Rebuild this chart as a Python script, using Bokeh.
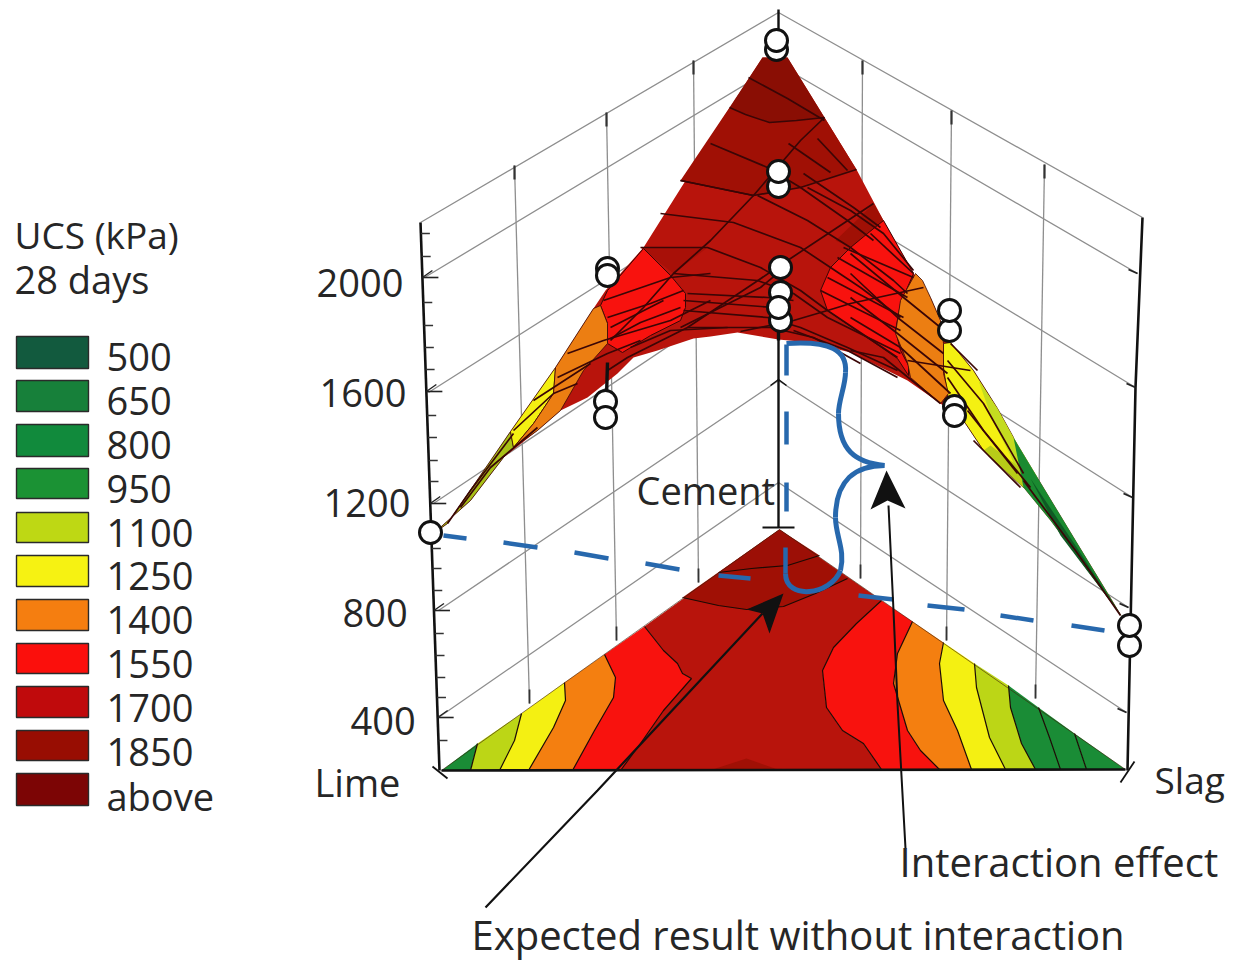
from bokeh.plotting import figure
from bokeh.models import Range1d
from bokeh.core.properties import value
from bokeh.embed import file_html
from bokeh.resources import INLINE

FONT = "Open Sans"
INK = "#262626"
MESH = "#3a0606"
GRID = "#8e8e8e"
BLUE = "#2768ad"

# ---- legend
legend_labels = ["500", "650", "800", "950", "1100", "1250", "1400", "1550", "1700", "1850", "above"]
legend_colors = ["#125a3e", "#17803a", "#118a3c", "#1b9234", "#bed814", "#f6f212", "#f57e10",
                 "#fb0f0c", "#c00a0c", "#980d02", "#7c0505"]
legend_top = [336, 380, 424, 468, 512, 555, 599, 643, 686, 730, 773]
legend_bottom = [368, 411, 456, 498, 542, 586, 630, 673, 717, 760, 805]
legend_text_y = [356, 400, 444, 488, 532, 575, 619, 663, 707, 751, 795]

C_GREEN, C_LIME, C_YEL, C_ORG, C_RED, C_1700, C_1850, C_TOP = (
    "#1a8c36", "#bcd616", "#f4f012", "#f47f10", "#f8120e", "#b8140c", "#a01005", "#8a0e04")

# ---- value axis
axis_labels = ["2000", "1600", "1200", "800", "400"]
axis_label_x = [316, 319, 323, 342, 350]
axis_label_y = [282, 392, 502, 612, 720]
left_tick_y = [277, 391, 503, 610, 717]
minor_tick_y = [233, 256, 302, 325, 347, 369, 415, 437, 460, 481, 526, 548, 568, 590, 633, 655, 677, 697, 740]

# ---- wall grid: (left end, centre, right end) of every level
wall_left_x = [420, 424, 428, 433, 438, 438]
wall_left_y = [222, 277, 392, 503, 610, 717]
wall_mid_y = [12, 64, 170, 272, 380, 482]
wall_right_x = [1142, 1137, 1135, 1132, 1128, 1126]
wall_right_y = [217, 273, 387, 497, 607, 712]

vert_x_top = [514, 606, 693, 862, 951, 1044]
vert_y_top = [165, 112, 60, 60, 110, 164]
vert_x_bot = [529, 616, 698, 860, 946, 1035]
vert_y_bot = [703, 640, 582, 578, 640, 698]

# ---- floor triangle
floor_L, floor_A, floor_R = (441, 770), (779, 529), (1125, 769)
c1 = [(477, 743), (470, 770)]
c2 = [(521, 713), (514, 740), (499, 770)]
c3 = [(564, 682), (565, 700), (553, 727), (528, 770)]
c4 = [(604, 654), (615, 677), (613, 697), (594, 730), (572, 770)]
c5 = [(644, 626), (663, 650), (677, 663), (682, 673), (691, 678), (663, 710), (640, 743), (620, 770)]
c6 = [(881, 600), (856, 623), (833, 647), (822, 670), (826, 707), (842, 730), (863, 743), (881, 769)]
c7 = [(912, 621), (897, 653), (893, 683), (907, 730), (920, 750), (939, 769)]
c8 = [(943, 642), (939, 663), (943, 700), (957, 730), (971, 769)]
c9 = [(974, 663), (976, 687), (989, 737), (1005, 769)]
c10 = [(1008, 685), (1010, 707), (1021, 743), (1035, 769)]
c11 = [(1038, 707), (1049, 737), (1060, 769)]
c12 = [(1074, 733), (1086, 769)]
floor_1850 = [(682, 597), (718, 605), (746, 609), (783, 606), (815, 593), (847, 578)]
floor_top = [(718, 572), (751, 568), (787, 565), (819, 555)]
floor_peak = [(709, 770), (746, 758), (780, 770)]

# ---- surface regions
surface_outline = [(433, 533), (447, 523), (510, 431), (555, 367), (593, 308), (605, 290), (643, 247), (687, 177),
                   (710, 137), (762, 57), (787, 57), (824, 117), (856, 169), (883, 220), (913, 273),
                   (930, 297), (940, 320), (950, 342), (973, 370), (997, 408), (1013, 437), (1037, 477),
                   (1077, 543), (1110, 597), (1122, 617), (1107, 597), (1050, 520), (1023, 487), (983, 450),
                   (965, 423), (940, 403), (907, 380), (850, 352), (810, 342), (778, 339), (737, 332), (710, 336),
                   (693, 338), (657, 350), (633, 357), (617, 373), (587, 397), (560, 410), (537, 430),
                   (503, 457), (470, 500)]
s_above = [(729, 107), (762, 57), (787, 57), (824, 117), (796, 120), (769, 122), (745, 114)]
s_1850 = [(680, 180), (729, 107), (745, 114), (769, 122), (796, 120), (824, 117), (856, 169), (800, 187), (753, 195)]
s_band_right = [(873, 203), (883, 220), (867, 233), (850, 247), (835, 240), (858, 218)]
s_band_left = [(640, 247), (707, 247), (673, 273)]
s_red_left = [(600, 305), (607, 290), (643, 248), (670, 275), (685, 293), (685, 307), (680, 320), (650, 335),
              (622, 352), (607, 343), (607, 323)]
s_red_right = [(883, 220), (913, 273), (900, 303), (895, 330), (900, 350), (908, 365), (908, 375), (897, 358),
               (827, 310), (820, 290), (830, 267), (850, 247), (867, 233)]
s_org_left = [(555, 367), (593, 308), (600, 305), (607, 323), (607, 343), (583, 370), (560, 410), (537, 430),
              (513, 447), (533, 423), (553, 393)]
s_org_right = [(915, 273), (922, 280), (930, 297), (940, 320), (943, 343), (943, 373), (948, 393), (940, 403),
               (910, 377), (907, 362), (895, 333), (900, 300)]
s_yel_left = [(510, 431), (555, 367), (553, 393), (533, 423), (513, 447)]
s_lime_left = [(433, 533), (447, 523), (510, 431), (513, 447), (503, 457), (470, 500)]
s_yel_right = [(943, 343), (950, 342), (973, 370), (997, 408), (1013, 437), (1023, 487), (983, 450), (965, 423),
               (948, 400), (943, 367)]
s_lime_right = [(978, 380), (997, 408), (1013, 437), (1037, 477), (1023, 487), (1010, 455), (992, 420)]
s_lime_lower = [(990, 445), (1023, 470), (1023, 487), (983, 450)]
s_green_right = [(1013, 437), (1037, 477), (1077, 543), (1122, 617), (1107, 597), (1050, 520), (1023, 487)]
s_green_core = [(1030, 478), (1077, 548), (1122, 617), (1060, 535)]

mesh_lines = [
    [(748, 77), (787, 98), (824, 120)],
    [(710, 143), (767, 167), (800, 187), (847, 220), (873, 240)],
    [(680, 180), (753, 195)],
    [(660, 213), (733, 222), (800, 247), (830, 267), (860, 287), (900, 317)],
    [(757, 195), (807, 220), (850, 247), (893, 280), (907, 293)],
    [(640, 247), (707, 247), (760, 267), (800, 290), (827, 310), (897, 357)],
    [(807, 187), (850, 210), (883, 233), (913, 270)],
    [(803, 173), (853, 207), (880, 227)],
    [(817, 138), (847, 170)],
    [(788, 143), (830, 172)],
    [(673, 273), (757, 280), (793, 293), (827, 317), (900, 353)],
    [(687, 293), (767, 297), (793, 300)],
    [(683, 300), (773, 307)],
    [(683, 310), (767, 317), (800, 327), (847, 347), (897, 370)],
    [(687, 327), (770, 327), (813, 337), (860, 363)],
    [(793, 330), (847, 350), (897, 377)],
    [(820, 290), (900, 330)],
    [(827, 277), (903, 317)],
    [(837, 257), (907, 297)],
    [(843, 247), (913, 277)],
    [(824, 117), (800, 140), (753, 195), (710, 240), (673, 273), (643, 307), (610, 340)],
    [(873, 203), (787, 260), (753, 283), (687, 327), (627, 357), (607, 370)],
    [(680, 327), (720, 307), (760, 287), (777, 273)],
    [(630, 347), (670, 330), (727, 327)],
    [(610, 338), (640, 322), (680, 307)],
    [(610, 327), (663, 300)],
    [(923, 287), (900, 292), (850, 303), (827, 310), (793, 320), (740, 331)],
    [(603, 300), (670, 277), (710, 273)],
    [(607, 317), (650, 303), (683, 290)],
    [(567, 353), (603, 340), (670, 320), (710, 300)],
    [(557, 377), (607, 353), (640, 340)],
    [(533, 400), (553, 387), (590, 363)],
    [(513, 430), (553, 393), (577, 383)],
    [(513, 433), (470, 490), (447, 523)],
    [(537, 427), (490, 467), (460, 507)],
    [(870, 233), (913, 273)],
    [(850, 253), (903, 297), (940, 327)],
    [(850, 273), (897, 317), (943, 353)],
    [(850, 297), (897, 333), (947, 373)],
    [(850, 317), (900, 347), (950, 393)],
    [(950, 343), (977, 370)],
    [(947, 360), (983, 403), (1023, 473)],
    [(947, 377), (983, 430), (1030, 487)],
    [(967, 410), (1017, 473)],
    [(973, 440), (1020, 487)],
    [(907, 360), (970, 370)],
    [(850, 350), (883, 357), (940, 403)],
    [(1023, 480), (1075, 550), (1120, 615)],
]

# ---- measured runs
point_x = [776, 776, 778, 778, 780, 780, 778, 780, 607, 607, 949, 949, 954, 954, 605, 605, 430, 1129, 1129]
point_y = [49, 40, 186, 171, 320, 292, 307, 267, 268, 275, 330, 310, 406, 415, 401, 417, 532, 645, 625]

stems = [[(607, 362), (606, 396)], [(778, 179), (778, 192)], [(781, 284), (781, 298)], [(778, 326), (778, 340)],
         [(949, 322), (949, 334)]]

# ---- annotations
blue_dashes = [[(443, 535), (466, 538)], [(503, 542), (537, 547)], [(574, 552), (608, 558)], [(645, 563), (679, 569)],
               [(718, 575), (750, 578)], [(858, 595), (893, 599)], [(927, 605), (964, 609)], [(1000, 615), (1033, 620)],
               [(1071, 625), (1104, 630)], [(786, 344), (786, 375)], [(786, 411), (786, 444)], [(786, 482), (786, 511)],
               [(785, 573), (785, 547)]]
# brace as cubic segments: start, control 1, control 2, end
brace_x0 = [786, 845, 838, 884, 835, 840]
brace_y0 = [343, 372, 413, 465, 517, 570]
brace_cx0 = [830, 845, 838, 855, 835, 830]
brace_cy0 = [340, 385, 450, 465, 535, 595]
brace_cx1 = [847, 838, 855, 835, 845, 785]
brace_cy1 = [350, 400, 462, 480, 550, 600]
brace_x1 = [845, 838, 884, 835, 840, 785]
brace_y1 = [372, 413, 465, 517, 570, 573]
arrow_1 = [(905, 848), (897, 703), (893, 610), (888, 505)]
arrow_1_head = [(886, 470), (905, 508), (887, 500), (870, 509)]
arrow_2 = [(485, 907), (597, 790), (762, 613)]
arrow_2_head = [(783, 593), (769, 633), (762, 613), (746, 609)]

texts = [("UCS (kPa)", 14, 234, 37), ("28 days", 14, 278, 38), ("Cement", 636, 489, 38), ("Lime", 314, 781, 38),
         ("Slag", 1154, 779, 37), ("Interaction effect", 899, 861, 40), ("Expected result without interaction", 471, 934, 40)]


def xs(pts):
    return [q[0] for q in pts]


def ys(pts):
    return [q[1] for q in pts]


p = figure(width=1233, height=962, x_range=Range1d(0, 1233), y_range=Range1d(962, 0),
           output_backend="svg", toolbar_location=None, min_border=0,
           x_axis_location=None, y_axis_location=None, outline_line_color=None)
p.grid.visible = False
p.background_fill_color = "white"
p.border_fill_color = "white"


def poly(pts, fill, line=None, lw=1.0):
    p.patch(xs(pts), ys(pts), fill_color=fill, line_color=line, line_width=lw)


def line(pts, color, lw):
    p.line(xs(pts), ys(pts), line_color=color, line_width=lw)


# walls
for i in range(len(wall_left_x)):
    line([(wall_left_x[i], wall_left_y[i]), (778, wall_mid_y[i]), (wall_right_x[i], wall_right_y[i])], GRID, 1.3)
for i in range(len(vert_x_top)):
    line([(vert_x_top[i], vert_y_top[i]), (vert_x_bot[i], vert_y_bot[i])], GRID, 1.3)
    line([(vert_x_top[i], vert_y_top[i]), (vert_x_top[i], vert_y_top[i] + 14)], "#333333", 2.2)
    line([(vert_x_bot[i], vert_y_bot[i] - 14), (vert_x_bot[i], vert_y_bot[i])], "#333333", 1.8)

# axes
line([(420, 222), (439, 770)], "#111111", 2.6)
line([(1142, 217), (1135, 387), (1127, 770)], "#111111", 2.6)
line([(778, 339), (778, 527)], "#111111", 2.4)
line([(778, 9), (778, 34)], "#111111", 2.4)
line([(762, 527), (794, 527)], "#111111", 2)
line([(770, 385), (778, 379), (786, 385)], "#111111", 1.5)
for y in minor_tick_y:
    x0 = 420 + (y - 222) * 19 / 548
    line([(x0, y), (x0 + 9, y)], "#333333", 1.5)
for y in left_tick_y:
    x0 = 420 + (y - 222) * 19 / 548
    line([(x0, y), (x0 + 16, y)], "#222222", 1.6)
    line([(x0, y), (x0 + 10, y - 7)], "#222222", 1.4)
for i in range(1, len(wall_right_x)):
    line([(wall_right_x[i] - 9, wall_right_y[i] - 4), (wall_right_x[i], wall_right_y[i])], "#222222", 1.8)

# floor: one polygon per band between neighbouring contours
poly(c1 + [floor_L], C_GREEN)
poly(c1 + c2[::-1], C_LIME)
poly(c2 + c3[::-1], C_YEL)
poly(c3 + c4[::-1], C_ORG)
poly(c4 + c5[::-1], C_RED)
poly(c5 + c6[::-1] + [floor_A], C_1700)
poly(c6 + c7[::-1], C_RED)
poly(c7 + c8[::-1], C_ORG)
poly(c8 + c9[::-1], C_YEL)
poly(c9 + c10[::-1], C_LIME)
poly(c10 + c11[::-1], C_GREEN)
poly(c11 + c12[::-1], C_GREEN)
poly(c12 + [floor_R], C_GREEN)
poly(floor_1850 + [floor_A], C_1850)
poly(floor_top + [floor_A], "#9c0f06")
poly(floor_peak, C_1850)
for contour in [c1, c2, c3, c4, c5, c6, c7, c8, c9, c10, c11, c12, floor_1850, floor_top]:
    line(contour, "#1c0a04", 1.2)
line([floor_L, floor_A, floor_R], "#40200a", 0.6)
line([floor_L, floor_R], "#111111", 2.6)
line([(432, 766), (447, 778)], "#111111", 1.8)
line([(1120, 782), (1134, 761)], "#111111", 1.8)

# surface
poly(surface_outline, C_1700, None)
poly(s_above, C_TOP)
poly(s_1850, C_1850)
poly(s_band_right, C_1850)
poly(s_band_left, "#a81008")
poly(s_red_left, C_RED, MESH, 1.0)
poly(s_red_right, C_RED, MESH, 1.0)
poly(s_lime_left, "#a8c018", MESH, 0.8)
poly(s_yel_left, C_YEL, MESH, 0.8)
poly(s_org_left, "#ec7e12", MESH, 0.8)
poly(s_yel_right, C_YEL, MESH, 0.8)
poly(s_lime_right, "#c4dc20")
poly(s_lime_lower, "#b8cc18")
poly(s_org_right, "#ec7e12", MESH, 0.8)
poly(s_green_right, "#1a8a30")
poly(s_green_core, "#0f5a24")
p.multi_line([xs(m) for m in mesh_lines], [ys(m) for m in mesh_lines], line_color=MESH, line_width=1.7)
line([(680, 180), (753, 195), (800, 187), (856, 169)], MESH, 1.7)
line([(729, 107), (745, 114), (769, 122), (796, 120), (824, 117)], MESH, 1.4)

# stems and points
for s in stems:
    line(s, "#111111", 3.4)
p.scatter(point_x, point_y, size=22, marker="circle", fill_color="white", line_color="#111111", line_width=3)

# annotations
p.multi_line([xs(d) for d in blue_dashes], [ys(d) for d in blue_dashes], line_color=BLUE, line_width=4.5)
p.bezier(brace_x0, brace_y0, brace_x1, brace_y1, brace_cx0, brace_cy0, brace_cx1, brace_cy1,
         line_color=BLUE, line_width=5)
line(arrow_1, "#111111", 2)
poly(arrow_1_head, "#111111")
line(arrow_2, "#111111", 2.2)
poly(arrow_2_head, "#111111")

# legend
p.quad(left=[16] * 11, right=[88] * 11, top=legend_top, bottom=legend_bottom, fill_color=legend_colors,
       line_color="#2a2a2a", line_width=1.4)
p.text([106] * 11, legend_text_y, text=legend_labels, text_font=value(FONT), text_font_size="38px",
       text_color=INK, text_baseline="middle", text_align="left")
p.text(axis_label_x, axis_label_y, text=axis_labels, text_font=value(FONT), text_font_size="38px",
       text_color=INK, text_baseline="middle", text_align="left")
for t, x, y, size in texts:
    p.text([x], [y], text=[t], text_font=value(FONT), text_font_size=f"{size}px",
           text_color=INK, text_baseline="middle", text_align="left")

open("out.html", "w").write(file_html(p, INLINE))
